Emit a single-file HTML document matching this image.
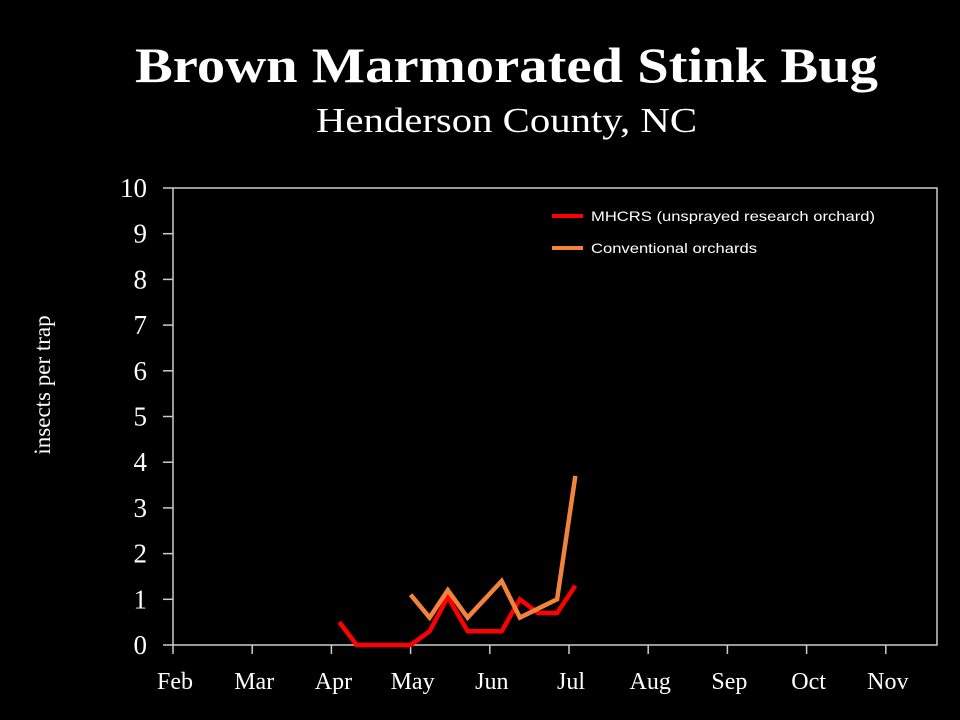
<!DOCTYPE html>
<html><head><meta charset="utf-8"><style>
body{margin:0;background:#000;}
svg{display:block}
</style></head><body>
<svg width="960" height="720" viewBox="0 0 960 720" xmlns="http://www.w3.org/2000/svg">
<rect width="960" height="720" fill="#000"/>
<text x="135" y="82" textLength="743" lengthAdjust="spacingAndGlyphs" fill="#fff" font-family="Liberation Serif, serif" font-weight="bold" font-size="50">Brown Marmorated Stink Bug</text>
<text x="316" y="132" textLength="381" lengthAdjust="spacingAndGlyphs" fill="#fff" font-family="Liberation Serif, serif" font-size="35">Henderson County, NC</text>
<text transform="translate(50,385) rotate(-90)" text-anchor="middle" fill="#fff" font-family="Liberation Serif, serif" font-size="23">insects per trap</text>
<g id="plot"></g>
<g>
<line x1="552" y1="216" x2="583" y2="216" stroke="#ff0000" stroke-width="4"/>
<text x="591" y="221" textLength="284" lengthAdjust="spacingAndGlyphs" fill="#fff" font-family="Liberation Sans, sans-serif" font-size="14">MHCRS (unsprayed research orchard)</text>
<line x1="552" y1="248" x2="583" y2="248" stroke="#f0843c" stroke-width="4"/>
<text x="591" y="253" textLength="166" lengthAdjust="spacingAndGlyphs" fill="#fff" font-family="Liberation Sans, sans-serif" font-size="14">Conventional orchards</text>
</g>
</svg>
<script>
const months = ["Feb","Mar","Apr","May","Jun","Jul","Aug","Sep","Oct","Nov"];
const yTicks = [0,1,2,3,4,5,6,7,8,9,10];
// x positions in months since Feb 1
const mhcrsX = [2.10,2.32,3.0,3.24,3.47,3.72,4.15,4.38,4.61,4.85,5.08];
const mhcrsY = [0.5,0,0,0.3,1.05,0.3,0.3,1.0,0.7,0.7,1.3];
const convX = [3.0,3.24,3.47,3.72,4.15,4.38,4.85,5.08];
const convY = [1.1,0.6,1.2,0.6,1.4,0.6,1.0,3.7];

const L=173,R=937,T=188,B=645,MW=79.2;
const xs=m=>L+m*MW;
const ys=v=>B-(v/10)*(B-T);
const NS="http://www.w3.org/2000/svg";
const g=document.getElementById('plot');
function mk(tag,attrs){const e=document.createElementNS(NS,tag);for(const k in attrs)e.setAttribute(k,attrs[k]);g.appendChild(e);return e;}
const frame=mk('rect',{x:L,y:T,width:R-L,height:B-T,fill:'none',stroke:'#ccc','stroke-width':1.5});


yTicks.forEach(v=>{
  const t=mk('line',{x1:163,x2:L,y1:ys(v),y2:ys(v),stroke:'#ccc','stroke-width':1.5});
  
  
  const l=mk('text',{x:147,y:ys(v)+9,'text-anchor':'end',fill:'#fff','font-family':'Liberation Serif, serif','font-size':27});
  l.textContent=v;
  
  
});
months.forEach((m,i)=>{
  const x=xs(i);
  const t=mk('line',{x1:x,x2:x,y1:B,y2:B+9,stroke:'#ccc','stroke-width':1.5});
  
  
  const l=mk('text',{x:x+2,y:689,'text-anchor':'middle',fill:'#fff','font-family':'Liberation Serif, serif','font-size':24});
  l.textContent=m;
  
  
});
function line(X,Y,color,name){
  const p=mk('polyline',{points:X.map((x,i)=>xs(x)+','+ys(Y[i])).join(' '),fill:'none',stroke:color,'stroke-width':4.5,'stroke-linejoin':'miter'});
  
  
}
line(mhcrsX,mhcrsY,'#ff0000','series-mhcrs');
line(convX,convY,'#f0843c','series-conventional');
</script>
</body></html>
